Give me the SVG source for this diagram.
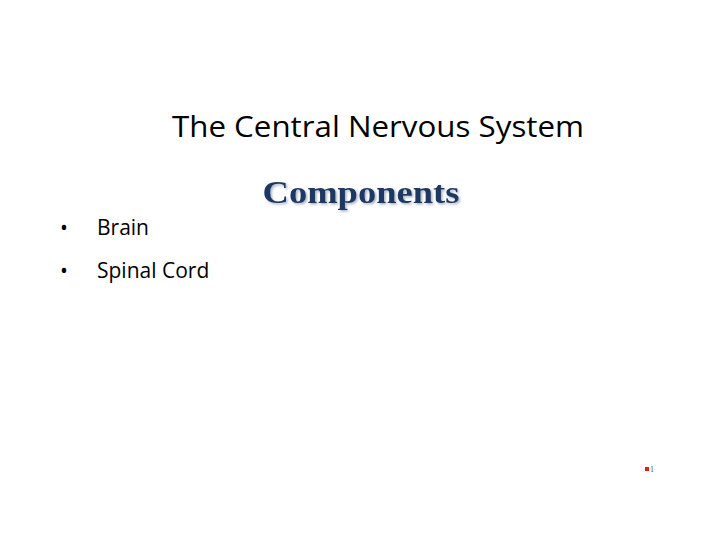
<svg xmlns="http://www.w3.org/2000/svg" width="720" height="557" viewBox="0 0 720 557">
<defs>
<filter id="sh" x="-10%" y="-30%" width="120%" height="160%"><feDropShadow dx="1.5" dy="1.5" stdDeviation="1" flood-color="#8090a8" flood-opacity="0.7"/></filter>
</defs>
<style>
.t{font-family:"Open Sans","Liberation Sans",sans-serif;fill:#000}
.c{font-family:"Liberation Serif",serif;font-weight:bold;font-size:31px;fill:#1f3864}
</style>
<rect width="720" height="557" fill="#fff"/>
<g id="title"><text class="t" x="378" y="137" font-size="29" text-anchor="middle" textLength="412" lengthAdjust="spacingAndGlyphs">The Central Nervous System</text></g>
<g id="components">
<text class="c" x="361" y="203" text-anchor="middle" textLength="197" lengthAdjust="spacingAndGlyphs" filter="url(#sh)">Components</text>
</g>
<g id="bullets">
<text class="t" x="60" y="235" font-size="21">•</text>
<text class="t" x="97" y="235" font-size="21">Brain</text>
<text class="t" x="60" y="278" font-size="21">•</text>
<text class="t" x="97" y="278" font-size="21">Spinal Cord</text>
</g>
<g id="footer">
<rect x="645" y="467" width="4" height="4" fill="#e02020"/>
<text x="650" y="472" font-family="Liberation Serif,serif" font-size="8" fill="#555">1</text>
</g>
</svg>
